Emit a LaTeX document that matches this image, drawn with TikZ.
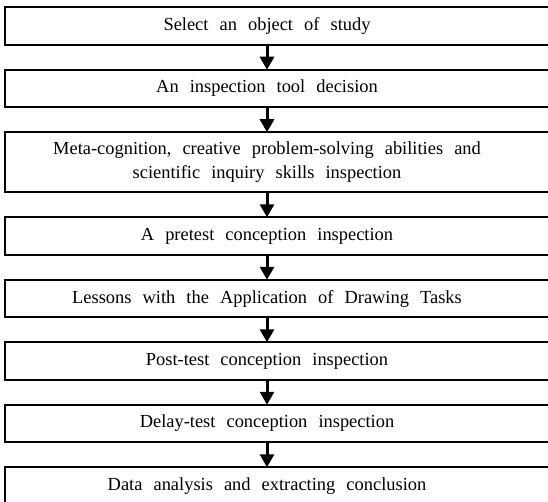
\documentclass[tikz,border=0pt]{standalone}
\usepackage{fontspec}
\setmainfont{Liberation Serif}
\usetikzlibrary{arrows.meta,positioning}
\newcommand{\stagefont}{\fontsize{18.5}{24.5}\selectfont\spaceskip=0.6em plus 0.1em\relax}

\begin{document}
\begin{tikzpicture}[
   x=1bp, y=-1bp, >=Stealth,
   node distance=25bp,
   stage/.style={minimum width=524bp, minimum height=37.5bp, inner sep=0pt,
                 outer sep=0pt, align=center, font=\stagefont},
   frame/.style={draw=black, line width=1.8bp},
   flow/.style={-{Triangle[width=14bp,length=13bp]}, line width=3bp}]
  \useasboundingbox (0,0) rectangle (548,502);
  \node[stage] (s1) at (267,26) {Select an object of study};
  \node[stage, below=of s1] (s2) {An inspection tool decision};
  \node[stage, below=of s2, minimum height=60bp] (s3)
     {Meta-cognition, creative problem-solving abilities and\\ scientific inquiry skills inspection};
  \node[stage, below=of s3] (s4) {A pretest conception inspection};
  \node[stage, below=of s4] (s5) {Lessons with the Application of Drawing Tasks};
  \node[stage, below=of s5] (s6) {Post-test conception inspection};
  \node[stage, below=of s6] (s7) {Delay-test conception inspection};
  \node[stage, below=of s7] (s8) {Data analysis and extracting conclusion};
  % frames run past the right edge of the page
  \foreach \n in {s1,s2,s3,s4,s5,s6,s7,s8}
    \draw[frame] (\n.north west) rectangle ([xshift=22bp]\n.south east);
  \foreach \a/\b in {s1/s2,s2/s3,s3/s4,s4/s5,s5/s6,s6/s7,s7/s8}
    \draw[flow] (\a) -- (\b);
\end{tikzpicture}
\end{document}
